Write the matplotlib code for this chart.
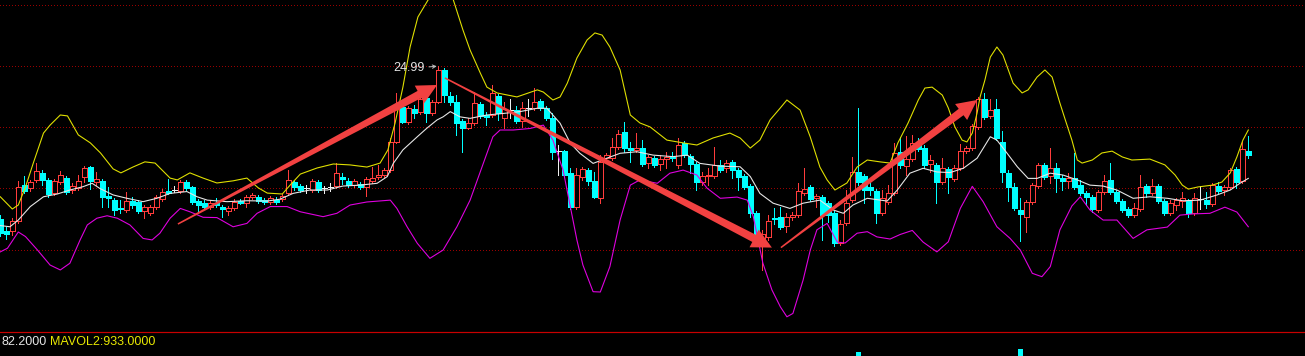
import numpy as np
import matplotlib
matplotlib.use('Agg')
import matplotlib.pyplot as plt
from matplotlib.patches import Polygon

# daily bars (bar 0 is cut at the left edge)
opens = [
    20.00, 19.61, 19.61, 19.94, 21.11, 21.02, 21.28, 21.51, 21.28, 20.85,
    21.21, 21.34, 20.95, 21.02, 21.38, 21.70, 21.21, 21.25, 20.76, 20.62,
    20.36, 20.30, 20.59, 20.56, 20.27, 20.20, 20.40, 20.66, 20.92, 20.95,
    20.92, 21.21, 21.05, 20.59, 20.53, 20.40, 20.53, 20.40, 20.27, 20.36,
    20.59, 20.53, 20.72, 20.72, 20.62, 20.56, 20.62, 20.66, 20.85, 21.21,
    21.08, 21.02, 20.95, 21.21, 21.02, 21.05, 21.08, 21.38, 21.25, 21.11,
    21.15, 21.05, 21.25, 21.38, 21.44, 21.60, 22.52, 23.66, 23.17, 23.60,
    23.50, 23.96, 23.47, 23.82, 24.87, 24.02, 23.82, 23.20, 22.98, 23.14,
    23.76, 23.40, 23.40, 24.02, 23.30, 23.56, 23.56, 23.20, 23.63, 23.63,
    23.86, 23.63, 23.30, 22.22, 22.22, 21.51, 20.40, 21.38, 21.60, 21.25,
    20.69, 21.99, 21.99, 22.36, 22.84, 22.32, 22.26, 22.32, 21.83, 21.99,
    21.80, 21.96, 22.03, 21.77, 22.49, 22.06, 21.80, 21.21, 21.41, 21.41,
    21.77, 21.67, 21.87, 21.60, 21.41, 21.08, 20.20, 19.12, 19.42, 20.04,
    20.07, 19.78, 20.07, 20.13, 20.85, 21.05, 20.69, 20.72, 20.53, 20.20,
    19.22, 19.87, 20.62, 21.54, 21.41, 21.05, 20.92, 20.20, 20.56, 20.85,
    22.19, 21.73, 21.96, 22.49, 22.32, 21.80, 21.77, 21.21, 21.64, 21.31,
    21.67, 22.22, 22.32, 23.01, 23.92, 23.37, 23.60, 22.52, 21.51, 21.05,
    20.30, 20.07, 20.56, 21.08, 21.77, 21.41, 21.67, 21.34, 21.25, 21.34,
    21.11, 20.85, 20.72, 20.30, 20.89, 21.28, 20.89, 20.59, 20.33, 20.13,
    20.33, 21.08, 20.85, 21.08, 20.59, 20.20, 20.46, 20.59, 20.59, 20.20,
    20.66, 20.62, 20.49, 21.08, 20.95, 21.05, 21.64, 21.25, 22.22,
]
highs = [
    20.13, 19.74, 20.04, 21.25, 21.41, 21.28, 21.83, 21.60, 21.34, 21.31,
    21.57, 21.41, 21.18, 21.44, 21.73, 21.73, 21.54, 21.31, 21.05, 20.69,
    20.62, 20.89, 20.72, 20.62, 20.46, 20.46, 20.79, 20.98, 21.31, 21.08,
    21.28, 21.28, 21.08, 20.66, 20.62, 20.62, 20.69, 20.46, 20.43, 20.66,
    20.66, 20.79, 20.85, 20.79, 20.69, 20.76, 20.72, 20.82, 21.60, 21.28,
    21.15, 21.11, 21.31, 21.28, 21.08, 21.18, 21.83, 21.51, 21.34, 21.31,
    21.21, 21.38, 21.70, 21.77, 21.67, 22.65, 24.12, 23.82, 23.69, 23.73,
    23.99, 24.02, 23.89, 24.99, 24.93, 24.15, 24.05, 23.27, 23.30, 24.15,
    23.82, 23.50, 24.38, 24.09, 23.82, 23.92, 23.69, 23.82, 23.92, 24.28,
    23.92, 23.69, 23.47, 22.42, 22.26, 21.67, 21.67, 21.70, 21.67, 21.54,
    22.09, 22.16, 22.65, 22.91, 23.17, 22.52, 22.81, 22.58, 22.09, 22.06,
    22.09, 22.19, 22.19, 22.65, 22.55, 22.13, 21.87, 21.54, 21.67, 22.36,
    21.93, 21.93, 21.93, 21.67, 21.47, 21.15, 20.27, 19.65, 20.13, 20.36,
    20.40, 20.20, 20.23, 21.18, 21.67, 21.11, 20.82, 20.79, 20.59, 20.27,
    19.97, 20.95, 22.03, 23.63, 21.47, 21.21, 20.98, 20.95, 21.11, 22.49,
    22.68, 22.71, 22.75, 22.65, 22.42, 22.09, 21.83, 21.99, 21.70, 21.77,
    22.45, 22.39, 23.11, 23.99, 24.12, 23.92, 23.92, 22.88, 21.60, 21.18,
    20.69, 20.62, 21.18, 21.83, 21.83, 22.32, 21.83, 21.44, 21.51, 22.16,
    21.28, 20.92, 20.79, 20.95, 21.44, 21.83, 20.95, 20.66, 20.40, 20.53,
    21.44, 21.15, 21.31, 21.15, 20.66, 20.62, 20.69, 20.89, 20.66, 20.85,
    21.08, 20.89, 21.18, 21.21, 21.11, 21.67, 21.70, 22.52, 22.71,
]
lows = [
    19.45, 19.35, 19.48, 19.87, 20.85, 20.92, 21.21, 21.11, 20.72, 20.79,
    21.15, 20.82, 20.85, 20.95, 21.21, 20.98, 21.11, 20.40, 20.40, 20.13,
    20.20, 20.23, 20.36, 20.20, 20.04, 20.13, 20.33, 20.59, 20.82, 20.89,
    20.85, 20.95, 20.49, 20.27, 20.33, 20.33, 20.40, 20.07, 20.13, 20.30,
    20.49, 20.40, 20.66, 20.53, 20.49, 20.49, 20.49, 20.59, 20.79, 20.95,
    20.89, 20.85, 20.89, 20.89, 20.85, 20.92, 21.02, 21.15, 21.05, 21.05,
    20.98, 20.76, 21.18, 21.31, 21.38, 21.54, 22.49, 23.14, 23.11, 23.30,
    23.43, 23.17, 23.40, 23.79, 23.82, 23.73, 22.75, 22.19, 22.94, 23.07,
    23.30, 23.07, 23.34, 23.24, 22.98, 23.30, 23.14, 23.01, 23.37, 23.56,
    23.56, 23.24, 21.96, 21.44, 21.38, 20.33, 20.33, 21.28, 21.11, 20.69,
    20.53, 21.87, 21.93, 22.29, 22.19, 21.87, 22.19, 21.73, 21.67, 21.70,
    21.60, 21.67, 21.90, 21.67, 22.03, 21.51, 20.95, 21.11, 21.11, 21.34,
    21.54, 21.54, 21.34, 20.95, 20.98, 20.07, 19.38, 18.34, 19.32, 19.84,
    19.68, 19.58, 19.97, 20.07, 20.79, 20.59, 20.40, 19.32, 19.90, 19.12,
    19.16, 19.81, 20.56, 21.11, 20.53, 20.79, 19.87, 20.13, 20.49, 20.79,
    21.67, 21.44, 21.90, 22.22, 21.67, 21.54, 20.53, 21.15, 20.85, 21.25,
    21.60, 22.16, 22.26, 22.94, 23.27, 23.30, 22.58, 21.21, 20.59, 20.30,
    19.29, 19.58, 20.49, 21.02, 21.31, 21.18, 20.89, 20.95, 21.02, 20.98,
    20.79, 20.46, 20.23, 20.23, 20.82, 20.82, 20.53, 20.23, 20.07, 20.07,
    20.27, 20.72, 20.79, 20.53, 20.13, 20.13, 20.30, 20.40, 20.07, 20.13,
    20.33, 20.36, 20.43, 20.85, 20.79, 20.98, 21.02, 21.18, 21.99,
]
closes = [
    19.55, 19.51, 19.94, 21.05, 20.92, 21.21, 21.57, 21.28, 20.82, 21.25,
    21.44, 20.89, 21.08, 21.25, 21.67, 21.25, 21.31, 20.72, 20.69, 20.30,
    20.33, 20.59, 20.46, 20.27, 20.40, 20.40, 20.72, 20.89, 20.85, 20.95,
    21.21, 21.02, 20.56, 20.46, 20.40, 20.53, 20.46, 20.33, 20.36, 20.56,
    20.53, 20.72, 20.79, 20.59, 20.56, 20.69, 20.56, 20.76, 21.28, 21.05,
    20.95, 21.02, 21.25, 20.95, 21.02, 21.05, 21.51, 21.31, 21.11, 21.25,
    21.05, 21.31, 21.34, 21.44, 21.60, 22.52, 23.66, 23.17, 23.63, 23.47,
    23.92, 23.47, 23.82, 24.87, 24.05, 23.82, 23.14, 22.98, 23.14, 23.79,
    23.37, 23.34, 24.12, 23.47, 23.60, 23.56, 23.20, 23.63, 23.63, 23.82,
    23.63, 23.30, 22.19, 22.22, 21.44, 20.40, 21.44, 21.64, 21.25, 20.72,
    21.87, 22.09, 22.36, 22.78, 22.32, 22.26, 22.32, 21.80, 22.03, 21.77,
    21.96, 22.03, 21.99, 22.42, 22.09, 21.80, 21.21, 21.41, 21.44, 21.77,
    21.60, 21.83, 21.60, 21.38, 21.05, 20.20, 19.45, 19.51, 19.94, 20.00,
    19.74, 20.07, 20.13, 20.92, 20.98, 20.66, 20.76, 20.13, 20.13, 19.22,
    19.84, 20.53, 21.54, 21.21, 20.95, 20.95, 20.20, 20.69, 20.85, 22.16,
    21.77, 21.96, 22.49, 22.29, 21.77, 21.93, 21.21, 21.67, 21.38, 21.67,
    22.22, 22.32, 23.04, 23.92, 23.34, 23.56, 22.65, 21.54, 21.05, 20.36,
    20.17, 20.56, 21.11, 21.77, 21.38, 21.67, 21.34, 21.25, 21.34, 21.05,
    20.85, 20.72, 20.33, 20.89, 21.25, 20.89, 20.59, 20.30, 20.13, 20.36,
    21.05, 20.85, 21.08, 20.59, 20.20, 20.53, 20.62, 20.69, 20.20, 20.69,
    20.66, 20.49, 21.11, 20.92, 21.05, 21.60, 21.21, 22.29, 22.09,
]

# bollinger lines, sampled along the bar axis
upper_t = [0.0, 2.0, 3.0, 4.2, 5.5, 7.2, 8.3, 10.0, 11.2, 13.0, 15.0, 16.7, 18.8, 20.1,
           22.1, 24.1, 25.8, 28.3, 29.5, 31.6, 33.8, 36.1, 38.8, 41.1, 43.0, 44.5, 47.0,
           48.3, 50.0, 52.8, 55.5, 58.3, 61.1, 63.3, 64.6, 65.8, 67.1, 68.3, 69.6, 71.3,
           73.3, 75.5, 77.1, 78.3, 80.0, 81.1, 82.8, 86.1, 89.5, 90.5, 92.1, 93.3, 94.5,
           96.1, 97.8, 99.1, 100.3, 101.6, 103.3, 105.0, 106.6, 108.3, 111.1, 113.8,
           116.1, 118.8, 121.6, 123.3, 125.0, 126.6, 128.3, 130.0, 131.1, 133.3, 135.0,
           136.6, 137.8, 139.1, 141.1, 142.8, 144.5, 146.6, 148.3, 149.6, 151.3, 153.0,
           154.1, 155.3, 157.0, 158.0, 159.1, 160.3, 161.1, 162.0, 162.8, 163.3, 164.1,
           165.0, 166.1, 167.1, 168.8, 170.3, 171.3, 172.8, 174.1, 175.3, 176.6, 177.5,
           178.6, 179.5, 180.3, 182.0, 183.6, 185.3, 187.0, 188.6, 191.6, 194.1, 195.8,
           197.0, 198.0, 199.6, 202.0, 203.6, 205.0, 206.1, 207.1, 208.0]
upper_v = [20.73, 20.33, 20.46, 21.05, 21.83, 22.81, 23.07, 23.40, 23.37, 22.75, 22.49,
           22.16, 21.64, 21.51, 21.70, 21.87, 21.83, 21.34, 21.28, 21.51, 21.34, 21.18,
           21.25, 21.34, 21.02, 20.85, 20.82, 21.11, 21.47, 21.67, 21.80, 21.77, 21.70,
           21.83, 22.26, 23.14, 24.31, 25.62, 26.60, 27.16, 27.74, 27.16, 26.18, 25.52,
           24.77, 24.31, 24.12, 23.99, 24.22, 24.15, 23.89, 23.99, 24.44, 25.26, 25.85,
           26.08, 26.01, 25.62, 24.87, 23.40, 23.14, 23.01, 22.58, 22.49, 22.42, 22.65,
           22.81, 22.65, 22.32, 22.58, 23.24, 23.63, 23.89, 23.56, 22.68, 21.70, 21.28,
           20.95, 21.18, 21.70, 21.93, 21.87, 21.83, 22.49, 23.14, 23.89, 24.28, 24.31,
           24.05, 23.63, 23.01, 22.58, 22.52, 22.81, 23.47, 23.99, 24.54, 25.29, 25.62,
           25.36, 24.44, 24.12, 24.22, 24.64, 24.87, 24.64, 23.79, 23.24, 22.58, 21.93,
           21.83, 21.93, 22.16, 22.22, 22.03, 21.93, 21.96, 21.77, 21.44, 21.11, 20.98,
           21.05, 21.11, 21.21, 21.51, 22.03, 22.58, 22.91]

mid_t = [0.0, 1.6, 3.0, 5.0, 7.2, 9.5, 11.6, 13.8, 15.3, 16.6, 18.8, 21.1, 23.8, 26.1,
         28.3, 31.1, 32.8, 34.5, 37.8, 41.1, 44.5, 46.6, 48.8, 51.6, 54.5, 57.1, 60.0,
         62.8, 64.5, 65.5, 67.1, 69.5, 71.1, 72.8, 73.8, 75.0, 76.6, 78.3, 81.1, 83.8,
         86.6, 89.5, 91.1, 93.3, 95.0, 96.6, 98.8, 101.1, 103.3, 106.1, 108.8, 112.1,
         114.5, 116.6, 120.0, 123.3, 125.0, 126.6, 128.8, 131.6, 133.8, 136.6, 138.8,
         140.5, 142.1, 144.5, 147.8, 149.5, 151.6, 153.8, 156.1, 158.3, 160.5, 162.8,
         165.0, 166.1, 167.8, 169.5, 171.3, 172.8, 175.0, 177.1, 179.5, 181.6, 183.8,
         186.1, 188.8, 191.6, 194.5, 197.1, 200.0, 202.8, 205.0, 206.6, 208.0]
mid_v = [19.79, 19.75, 19.97, 20.41, 20.73, 20.82, 20.95, 21.06, 21.17, 21.00, 20.79,
         20.68, 20.57, 20.68, 20.84, 20.90, 20.73, 20.62, 20.57, 20.60, 20.59, 20.65,
         20.84, 20.95, 20.95, 21.08, 21.11, 21.17, 21.39, 21.82, 22.26, 22.69, 22.97,
         23.24, 23.34, 23.51, 23.34, 23.29, 23.40, 23.45, 23.51, 23.62, 23.62, 23.13,
         22.48, 22.15, 21.82, 21.99, 22.15, 22.20, 22.09, 22.04, 22.09, 21.82, 21.73,
         21.71, 21.39, 20.84, 20.52, 20.35, 20.52, 20.62, 20.30, 20.19, 20.46, 20.68,
         20.59, 20.95, 21.50, 21.66, 21.54, 21.52, 21.66, 21.99, 22.69, 22.58, 22.15,
         21.71, 21.33, 21.33, 21.50, 21.44, 21.28, 21.11, 21.08, 20.95, 20.68, 20.73,
         20.68, 20.60, 20.62, 20.79, 20.95, 21.17, 21.33]

lower_t = [0.0, 1.2, 3.0, 4.2, 6.2, 8.3, 10.0, 11.6, 13.3, 14.5, 16.1, 17.8, 19.5, 21.6,
           23.8, 25.3, 26.6, 28.3, 30.0, 31.6, 33.8, 36.1, 38.8, 41.1, 42.8, 45.0, 47.8,
           50.0, 53.8, 56.1, 58.3, 61.1, 65.0, 66.1, 67.8, 69.5, 71.6, 73.8, 76.1, 78.3,
           80.5, 82.1, 83.3, 85.5, 88.3, 90.5, 92.1, 93.8, 95.0, 96.1, 97.1, 98.8, 100.0,
           101.6, 103.3, 105.0, 106.6, 109.5, 111.6, 113.8, 116.1, 117.8, 120.0, 122.8,
           124.5, 125.5, 127.1, 128.6, 130.0, 131.1, 132.1, 133.8, 135.0, 136.1, 137.8,
           139.5, 140.8, 142.8, 144.5, 146.1, 148.3, 150.0, 152.0, 153.8, 156.1, 158.0,
           160.0, 162.0, 163.8, 166.1, 168.3, 170.0, 172.0, 173.6, 175.0, 176.6, 178.6,
           180.0, 181.6, 183.8, 186.1, 188.8, 191.1, 194.5, 196.6, 198.8, 201.6, 204.1,
           206.1, 208.0]
lower_v = [18.93, 19.05, 19.58, 19.43, 18.99, 18.50, 18.34, 18.56, 19.32, 19.81, 20.03,
           20.11, 20.03, 19.81, 19.37, 19.32, 19.54, 20.03, 20.35, 20.24, 20.06, 20.05,
           19.75, 19.86, 20.19, 20.41, 20.41, 20.24, 20.08, 20.19, 20.46, 20.56, 20.62,
           20.35, 19.75, 19.21, 18.72, 18.99, 19.75, 20.62, 21.82, 22.69, 22.91, 22.91,
           22.96, 23.07, 22.58, 21.60, 20.41, 19.32, 18.50, 17.63, 17.62, 18.45, 19.97,
           21.11, 21.28, 21.17, 21.50, 21.60, 21.44, 21.01, 20.68, 20.72, 20.62, 20.08,
           18.56, 17.69, 17.14, 16.81, 16.92, 18.01, 18.99, 19.65, 19.86, 19.25, 19.22,
           19.54, 19.59, 19.42, 19.35, 19.50, 19.63, 19.25, 18.93, 19.26, 20.35, 21.07,
           20.57, 19.75, 19.37, 18.99, 18.23, 18.12, 18.45, 19.65, 20.43, 20.73, 20.30,
           19.97, 19.97, 19.37, 19.65, 19.74, 20.13, 20.17, 20.19, 20.39, 20.23, 19.75]

# only two volume bars reach into the visible strip
vol_t = [143, 170]
vol_v = [560, 910]

grid_levels = [19, 21, 23, 25, 27]
peak_bar = 73
peak_label = '24.99'
mavol_text = ['82.2000', 'MAVOL2:933.0000']

# hand drawn trend arrows: (tail, tip) as (bar, price)
trend_arrows = [
    ((29.6, 19.84), (72.8, 24.38)),
    ((74.1, 24.61), (128.6, 19.07)),
    ((130.1, 19.07), (162.8, 23.89)),
]

UP = '#ff3c3c'
DOWN = '#00ffff'
FLAT = '#f0f0f0'
ARROW = '#f24141'
W = 0.8
PX = 0.72  # one pixel in points

W_PX, H_PX = 1305, 356
fig = plt.figure(figsize=(W_PX / 100, H_PX / 100), dpi=100, facecolor='black')
ax = fig.add_axes([0, 24 / H_PX, 1, 332 / H_PX])
ax.set_facecolor('black')
ax.set_xlim(-0.05, (W_PX - 0.3) / 6)
ax.set_ylim(16.314, 27.155)
ax.set_xticks([])
ax.set_yticks([])
for side in ['top', 'left', 'right']:
    ax.spines[side].set_visible(False)
ax.spines['bottom'].set_color('#c80000')
ax.spines['bottom'].set_linewidth(1.2 * PX)

for lvl in grid_levels:
    ax.axhline(lvl, color='#990000', lw=PX, linestyle=(0, (1, 2.5)), zorder=1,
               antialiased=False)

o = np.array(opens)
h = np.array(highs)
l = np.array(lows)
c = np.array(closes)
idx = np.arange(len(c))
top = np.maximum(o, c)
bot = np.minimum(o, c)
up = c > o
down = c < o
flat = c == o

ax.vlines(idx[up], top[up], h[up], color=UP, lw=PX, zorder=2, antialiased=False)
ax.vlines(idx[up], l[up], bot[up], color=UP, lw=PX, zorder=2, antialiased=False)
ax.bar(idx[up], top[up] - bot[up], bottom=bot[up], width=W, facecolor='black',
       edgecolor=UP, linewidth=PX, zorder=3, antialiased=False)

ax.vlines(idx[down], l[down], h[down], color=DOWN, lw=PX, zorder=2, antialiased=False)
ax.bar(idx[down], top[down] - bot[down], bottom=bot[down], width=W, facecolor=DOWN,
       edgecolor=DOWN, linewidth=PX, zorder=3, antialiased=False)

ax.vlines(idx[flat], l[flat], h[flat], color=FLAT, lw=PX, zorder=2, antialiased=False)
ax.hlines(o[flat], idx[flat] - W / 2, idx[flat] + W / 2, color=FLAT, lw=PX, zorder=3,
          antialiased=False)

ax.plot(upper_t, upper_v, color='#e0e000', lw=1.1 * PX, zorder=4)
ax.plot(mid_t, mid_v, color='#e6e6e6', lw=1.1 * PX, zorder=4)
ax.plot(lower_t, lower_v, color='#e000e0', lw=1.1 * PX, zorder=4)


def arrow_shape(tail, tip, w0=1.5, w1=8.0, head_w=20.0, head_len=20.0):
    # tapered shaft with a triangular head, built in pixels then mapped back
    p0 = ax.transData.transform(tail)
    p1 = ax.transData.transform(tip)
    d = p1 - p0
    u = d / np.hypot(d[0], d[1])
    n = np.array([-u[1], u[0]])
    b = p1 - u * head_len
    pts = [p0 + n * w0 / 2, b + n * w1 / 2, b + n * head_w / 2, p1,
           b - n * head_w / 2, b - n * w1 / 2, p0 - n * w0 / 2]
    return ax.transData.inverted().transform(pts)


for tail, tip in trend_arrows:
    ax.add_patch(Polygon(arrow_shape(tail, tip), closed=True, facecolor=ARROW,
                         edgecolor='none', zorder=5))

ax.annotate(peak_label, xy=(peak_bar - 0.25, highs[peak_bar]), xytext=(-12, -2),
            textcoords='offset pixels', ha='right', va='center', color='#e6e6e6',
            fontsize=9, family='Liberation Sans', zorder=6,
            arrowprops=dict(arrowstyle='->', color='#bdbdbd', lw=PX,
                            shrinkA=1, shrinkB=0, mutation_scale=6))

vax = fig.add_axes([0, 0, 1, 23 / H_PX])
vax.set_facecolor('black')
vax.set_xlim(ax.get_xlim())
vax.set_ylim(0, 3000)
vax.axis('off')
vax.bar(vol_t, vol_v, width=W, color=DOWN, antialiased=False)

fig.text(1 / W_PX, (H_PX - 342) / H_PX, mavol_text[0], color='#e6e6e6', fontsize=9,
         family='Liberation Sans', ha='left', va='center')
fig.text(50 / W_PX, (H_PX - 342) / H_PX, mavol_text[1], color='#e8e800', fontsize=9,
         family='Liberation Sans', ha='left', va='center')

fig.savefig('out.png', dpi=100, facecolor='black')
